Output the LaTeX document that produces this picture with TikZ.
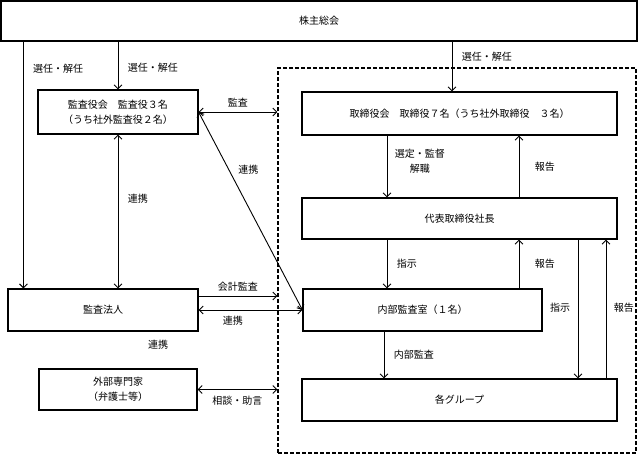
\documentclass[tikz,border=0pt]{standalone}
\usepackage{fontspec}
\setmainfont{Noto Sans CJK JP}
\usetikzlibrary{arrows.meta}

\begin{document}
\begin{tikzpicture}[x=1pt, y=-1pt, font=\fontsize{10}{15}\selectfont,
    box/.style={draw, line width=1.1pt, inner sep=0pt, align=center},
    frame/.style={draw, line width=1.2pt, dash pattern=on 4pt off 2pt, inner sep=0pt},
    arr/.style={line width=0.9pt, -{Straight Barb[length=4pt,width=8pt]}},
    twoway/.style={line width=0.9pt, {Straight Barb[length=4pt,width=8pt]}-{Straight Barb[length=4pt,width=8pt]}}]
  \useasboundingbox (0,0) rectangle (640,456);

  \node [frame, minimum width=358pt, minimum height=385pt] (kanri) at (457,260.5) {};

  \node [box, minimum width=636pt, minimum height=40pt] (soukai) at (319,21) {株主総会};
  \node [box, minimum width=160pt, minimum height=44pt] (kansa) at (118,112)
    {監査役会　監査役３名\\（うち社外監査役２名）};
  \node [box, minimum width=190pt, minimum height=42pt] (hojin) at (103,310) {監査法人};
  \node [box, minimum width=158pt, minimum height=41pt] (senmon) at (118,389.5)
    {外部専門家\\（弁護士等）};
  \node [box, minimum width=315pt, minimum height=43pt] (torikai) at (459.5,113.5)
    {取締役会　取締役７名（うち社外取締役　３名）};
  \node [box, minimum width=315pt, minimum height=41pt] (shacho) at (459.5,218.5) {代表取締役社長};
  \node [box, minimum width=239pt, minimum height=42pt] (naibu) at (422.5,310) {内部監査室（１名）};
  \node [box, minimum width=315pt, minimum height=42pt] (group) at (459.5,400) {各グループ};

  \draw [arr] ([xshift=16pt]hojin.north west |- soukai.south) -- ([xshift=16pt]hojin.north west)
    node [pos=0.11, right=6pt] {選任・解任};
  \draw [arr] (kansa.north |- soukai.south) -- (kansa.north)
    node [pos=0.55, right=6pt] {選任・解任};
  \draw [arr] ([xshift=-7.5pt]torikai.north |- soukai.south) -- ([xshift=-7.5pt]torikai.north)
    node [pos=0.31, right=6pt] {選任・解任};

  \draw [twoway] (kansa.east) -- (kansa.east -| kanri.west)
    node [midway, above=1pt] {監査};
  \draw [twoway] (kansa.east) -- (naibu.west)
    node [pos=0.29, right=6pt] {連携};
  \draw [twoway] (kansa.south) -- (kansa.south |- hojin.north)
    node [pos=0.42, right=6pt] {連携};

  \draw [arr] ([yshift=14pt]hojin.east) -- ([yshift=14pt]hojin.east -| kanri.west)
    node [midway, above=1pt] {会計監査};
  \draw [twoway] (hojin.east) -- (naibu.west)
    node [pos=0.33, below=2pt] {連携};
  \node (renkei) at (158,345) {連携};
  \draw [twoway] (senmon.east) -- (senmon.east -| kanri.west)
    node [midway, below=3pt] {相談・助言};

  \draw [arr] ([xshift=-72.5pt]torikai.south) -- ([xshift=-72.5pt]shacho.north)
    node [pos=0.42, right=4pt, align=center] {選定・監督\\解職};
  \draw [arr] ([xshift=59.5pt]shacho.north) -- ([xshift=59.5pt]torikai.south)
    node [midway, right=12pt] {報告};
  \draw [arr] ([xshift=-72.5pt]shacho.south) -- ([xshift=-72.5pt]shacho.south |- naibu.north)
    node [midway, right=6pt] {指示};
  \draw [arr] ([xshift=59.5pt]shacho.south |- naibu.north) -- ([xshift=59.5pt]shacho.south)
    node [midway, right=12pt] {報告};
  \draw [arr] ([xshift=-38.5pt]naibu.south) -- ([xshift=-38.5pt]naibu.south |- group.north)
    node [midway, right=6pt] {内部監査};
  \draw [arr] ([xshift=118.5pt]shacho.south) -- ([xshift=118.5pt]shacho.south |- group.north)
    node [pos=0.49, left=4pt] {指示};
  \draw [arr] ([xshift=146.5pt]shacho.south |- group.north) -- ([xshift=146.5pt]shacho.south)
    node [pos=0.51, right=4pt] {報告};
\end{tikzpicture}
\end{document}
